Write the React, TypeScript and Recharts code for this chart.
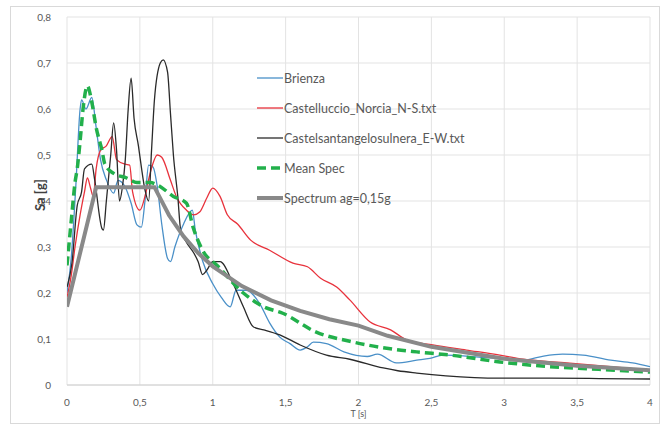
import { LineChart, Line, XAxis, YAxis, CartesianGrid } from 'recharts';

const xTicks = [0, 0.5, 1, 1.5, 2, 2.5, 3, 3.5, 4];
const yTicks = [0, 0.1, 0.2, 0.3, 0.4, 0.5, 0.6, 0.7, 0.8];

const brienzaT = [0, 0.03, 0.06, 0.09, 0.1, 0.13, 0.17, 0.2, 0.23, 0.27, 0.32, 0.35, 0.4, 0.44, 0.48, 0.51, 0.535, 0.56, 0.59, 0.62, 0.65, 0.69, 0.71, 0.74, 0.8, 0.86, 0.88, 0.93, 1.0, 1.06, 1.12, 1.16, 1.23, 1.32, 1.39, 1.46, 1.53, 1.6, 1.65, 1.69, 1.78, 1.9, 2.06, 2.13, 2.26, 2.4, 2.49, 2.58, 2.86, 3.13, 3.27, 3.4, 3.54, 3.73, 3.88, 4.0];
const brienzaV = [0.2, 0.28, 0.43, 0.6, 0.62, 0.6, 0.625, 0.56, 0.49, 0.446, 0.417, 0.445, 0.43, 0.395, 0.348, 0.343, 0.4, 0.478, 0.474, 0.43, 0.35, 0.275, 0.268, 0.3, 0.35, 0.38, 0.337, 0.27, 0.22, 0.19, 0.17, 0.206, 0.206, 0.178, 0.135, 0.104, 0.09, 0.076, 0.083, 0.093, 0.09, 0.072, 0.062, 0.067, 0.048, 0.054, 0.058, 0.065, 0.06, 0.054, 0.063, 0.067, 0.065, 0.054, 0.048, 0.04];

const norciaT = [0, 0.03, 0.055, 0.09, 0.12, 0.14, 0.16, 0.18, 0.2, 0.23, 0.27, 0.31, 0.34, 0.4, 0.43, 0.45, 0.5, 0.535, 0.57, 0.62, 0.65, 0.71, 0.75, 0.82, 0.87, 0.91, 0.96, 1.0, 1.05, 1.1, 1.17, 1.26, 1.39, 1.55, 1.65, 1.74, 1.85, 1.94, 2.08, 2.22, 2.33, 2.51, 2.74, 2.97, 3.13, 3.43, 3.73, 4.0];
const norciaV = [0.19, 0.24, 0.3, 0.37, 0.42, 0.45, 0.43, 0.41, 0.47, 0.51, 0.52, 0.54, 0.49, 0.48, 0.478, 0.42, 0.38, 0.41, 0.46, 0.5, 0.495, 0.445, 0.41, 0.38, 0.37, 0.376, 0.407, 0.428, 0.41, 0.37, 0.35, 0.315, 0.293, 0.265, 0.257, 0.232, 0.213, 0.185, 0.137, 0.12, 0.098, 0.087, 0.076, 0.065, 0.056, 0.048, 0.04, 0.032];

const castelT = [0, 0.034, 0.07, 0.1, 0.12, 0.17, 0.19, 0.24, 0.25, 0.27, 0.3, 0.32, 0.34, 0.36, 0.38, 0.4, 0.42, 0.44, 0.46, 0.49, 0.51, 0.535, 0.56, 0.58, 0.6, 0.64, 0.66, 0.69, 0.71, 0.73, 0.76, 0.78, 0.82, 0.87, 0.9, 0.93, 0.96, 1.0, 1.05, 1.14, 1.21, 1.28, 1.35, 1.46, 1.6, 1.78, 1.94, 2.17, 2.27, 2.4, 2.6, 2.97, 3.31, 3.65, 4.0];
const castelV = [0.213, 0.265, 0.39, 0.42, 0.47, 0.48, 0.446, 0.34, 0.337, 0.4, 0.5, 0.57, 0.51, 0.4, 0.43, 0.49, 0.6, 0.667, 0.58, 0.52, 0.474, 0.424, 0.4, 0.51, 0.62, 0.7, 0.707, 0.68, 0.59, 0.5, 0.41, 0.337, 0.31, 0.287, 0.268, 0.24, 0.25, 0.268, 0.268, 0.22, 0.17, 0.126, 0.12, 0.109, 0.087, 0.065, 0.056, 0.037, 0.031, 0.026, 0.02, 0.015, 0.015, 0.014, 0.013];

const meanT = [0, 0.03, 0.055, 0.07, 0.09, 0.11, 0.14, 0.17, 0.2, 0.24, 0.26, 0.32, 0.41, 0.48, 0.57, 0.62, 0.73, 0.82, 0.865, 0.93, 1.03, 1.21, 1.35, 1.48, 1.71, 1.94, 2.26, 2.4, 2.63, 2.97, 3.31, 3.65, 4.0];
const meanV = [0.26, 0.36, 0.44, 0.47, 0.53, 0.6, 0.65, 0.615, 0.56, 0.51, 0.48, 0.46, 0.45, 0.44, 0.44, 0.435, 0.41, 0.395, 0.343, 0.293, 0.26, 0.2, 0.17, 0.156, 0.115, 0.095, 0.077, 0.072, 0.065, 0.05, 0.04, 0.034, 0.028];

const specT = [0, 0.2, 0.6, 0.7, 0.8, 0.9, 1.0, 1.2, 1.4, 1.6, 1.8, 2.0, 2.2, 2.5, 3.0, 3.5, 4.0];
const specV = [0.17, 0.43, 0.43, 0.369, 0.323, 0.287, 0.258, 0.215, 0.184, 0.161, 0.143, 0.129, 0.107, 0.083, 0.057, 0.042, 0.032];

const zip = (t: number[], v: number[]) => t.map((x, i) => ({ t: x, v: v[i] }));

const series = [
  { name: 'Brienza', data: zip(brienzaT, brienzaV), color: '#4a90c8', width: 1.3, dash: undefined as string | undefined, type: 'monotone' },
  { name: 'Castelluccio_Norcia_N-S.txt', data: zip(norciaT, norciaV), color: '#e8323c', width: 1.3, dash: undefined, type: 'monotone' },
  { name: 'Castelsantangelosulnera_E-W.txt', data: zip(castelT, castelV), color: '#2a2a2a', width: 1.3, dash: undefined, type: 'monotone' },
  { name: 'Mean Spec', data: zip(meanT, meanV), color: '#22b04b', width: 3.5, dash: '9 5', type: 'monotone' },
  { name: 'Spectrum ag=0,15g', data: zip(specT, specV), color: '#898989', width: 4, dash: undefined, type: 'linear' },
];

const fmt = (v: number) => String(v).replace('.', ',');
const FONT = 'Lato, "Open Sans", sans-serif';

function LegendBox() {
  return (
    <div style={{ position: 'absolute', left: 257, top: 63, fontFamily: FONT, fontSize: 12.5, color: '#595959' }}>
      {series.map(s => (
        <div key={s.name} style={{ display: 'flex', alignItems: 'center', height: 30 }}>
          <svg width={26} height={8} style={{ marginRight: 1 }}>
            <line x1={0} y1={4} x2={26} y2={4} stroke={s.color} strokeWidth={s.width} strokeDasharray={s.dash} />
          </svg>
          <span>{s.name}</span>
        </div>
      ))}
    </div>
  );
}

export default function App() {
  return (
    <div style={{ position: 'relative', width: 667, height: 430, background: '#fff' }}>
      <style>{'body{margin:0}'}</style>
      <div style={{ position: 'absolute', left: 10, top: 6, width: 650, height: 418, border: '1px solid #d9d9d9', boxSizing: 'border-box' }} />
      <LineChart width={667} height={430} margin={{ top: 17, right: 17, bottom: 15, left: 0 }} style={{ position: 'absolute', left: 0, top: 0 }}>
        <CartesianGrid stroke="#e3e3e3" />
        <XAxis
          type="number"
          dataKey="t"
          domain={[0, 4]}
          ticks={xTicks}
          tickFormatter={fmt}
          height={30}
          stroke="#d0d0d0"
          tickLine={false}
          tickMargin={8}
          tick={{ fill: '#595959', fontSize: 10, fontFamily: FONT }}
          label={{ value: 'T [s]', position: 'insideBottom', offset: -2, fill: '#595959', fontSize: 9, fontFamily: FONT }}
          allowDataOverflow
        />
        <YAxis
          type="number"
          domain={[0, 0.8]}
          ticks={yTicks}
          tickFormatter={fmt}
          width={67}
          axisLine={false}
          tickLine={false}
          tickMargin={10}
          tick={{ fill: '#595959', fontSize: 10, fontFamily: FONT }}
          label={{ value: 'Sa [g]', angle: -90, position: 'insideLeft', offset: 30, dx: 10, dy: 10, fill: '#404040', fontSize: 13, fontWeight: 'bold', fontFamily: FONT }}
        />
        {series.map(s => (
          <Line
            key={s.name}
            data={s.data}
            dataKey="v"
            name={s.name}
            type={s.type as 'monotone' | 'linear'}
            stroke={s.color}
            strokeWidth={s.width}
            strokeDasharray={s.dash}
            dot={false}
            isAnimationActive={false}
          />
        ))}
      </LineChart>
      <LegendBox />
    </div>
  );
}
